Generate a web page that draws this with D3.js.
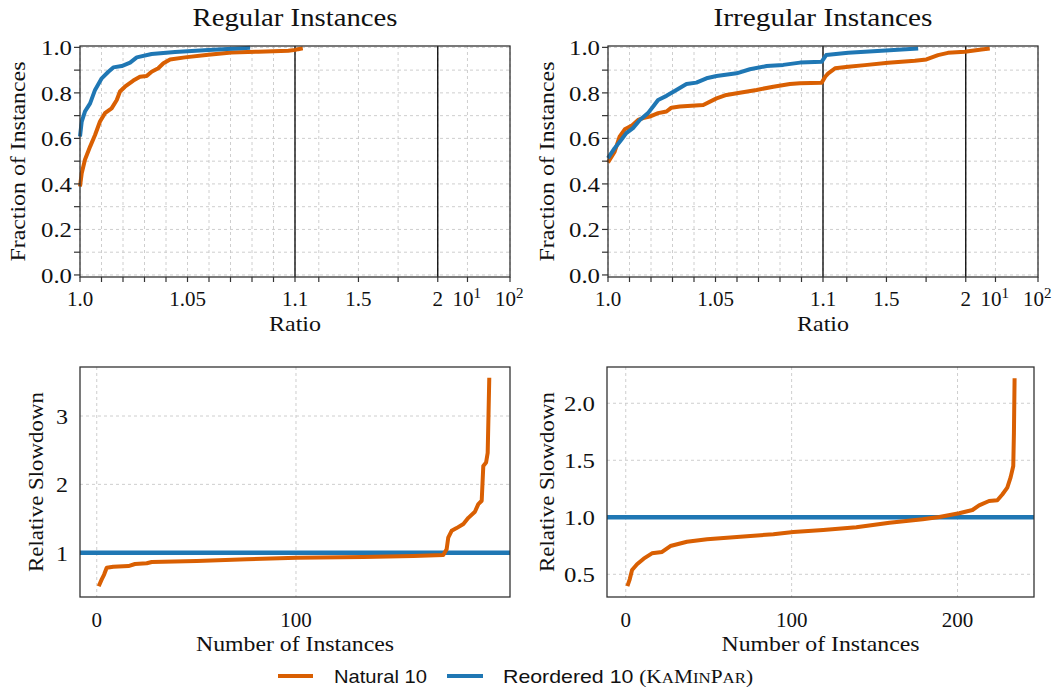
<!DOCTYPE html>
<html>
<head>
<meta charset="utf-8">
<title>Performance profiles and relative slowdown</title>
<script src="https://d3js.org/d3.v7.min.js"></script>
<style>
  html, body { margin: 0; padding: 0; background: #fff; }
  svg text { font-family: "Liberation Serif", "Times New Roman", serif; fill: #111; }
  .sans { font-family: "Liberation Sans", Arial, sans-serif; }
</style>
</head>
<body>
<svg id="chart" width="1057" height="693"></svg>
<script>
// ---- data ----
// performance profiles: [ratio, fraction of instances]
var regularNatural = [[1.0000,0.389],[1.0008,0.447],[1.0023,0.506],[1.0047,0.564],[1.0070,0.615],[1.0093,0.674],
  [1.0116,0.711],[1.0147,0.732],[1.0171,0.769],[1.0186,0.806],[1.0209,0.827],[1.0248,0.854],[1.0279,0.871],
  [1.0310,0.874],[1.0333,0.893],[1.0364,0.908],[1.0388,0.930],[1.0419,0.947],[1.0488,0.956],[1.0597,0.968],
  [1.0705,0.977],[1.0829,0.981],[1.0969,0.985],[1.1031,0.989],[1.12,0.992],[1.149,0.996]];
var regularReordered = [[1.0000,0.608],[1.0008,0.674],[1.0023,0.718],[1.0047,0.754],[1.0070,0.813],[1.0101,0.864],
  [1.0132,0.893],[1.0155,0.912],[1.0194,0.918],[1.0233,0.933],[1.0264,0.956],[1.0333,0.971],[1.0442,0.980],
  [1.0597,0.988],[1.0752,0.996],[1.0791,0.998]];
var irregularNatural = [[1.0000,0.494],[1.0031,0.542],[1.0054,0.608],[1.0078,0.640],[1.0109,0.655],[1.0140,0.681],
  [1.0163,0.689],[1.0194,0.696],[1.0233,0.711],[1.0272,0.718],[1.0295,0.735],[1.0334,0.740],[1.0443,0.747],
  [1.0505,0.776],[1.0551,0.791],[1.0613,0.801],[1.0691,0.813],[1.0769,0.827],[1.0846,0.839],[1.0893,0.842],
  [1.0994,0.845],[1.115,0.872],[1.133,0.886],[1.176,0.908],[1.259,0.915],[1.364,0.922],[1.511,0.932],
  [1.679,0.941],[1.752,0.947],[1.825,0.966],[1.888,0.976],[1.994,0.981],[4.68,0.991],[7.34,0.995]];
var irregularReordered = [[1.0000,0.513],[1.0031,0.557],[1.0062,0.594],[1.0085,0.623],[1.0116,0.645],[1.0148,0.681],
  [1.0186,0.711],[1.0210,0.740],[1.0233,0.769],[1.0272,0.787],[1.0318,0.813],[1.0365,0.839],[1.0411,0.845],
  [1.0458,0.864],[1.0505,0.874],[1.0598,0.886],[1.0660,0.904],[1.0738,0.918],[1.0815,0.923],[1.0893,0.933],
  [1.0994,0.937],[1.106,0.952],[1.12,0.966],[1.259,0.976],[1.469,0.985],[1.70,0.995]];

// relative slowdown of Natural 10 vs Reordered 10, sorted: [instance, slowdown]
var regularSlowdown = [[1,0.51],[2.5,0.61],[3.7,0.68],[5,0.78],[8.3,0.795],[15.9,0.805],[19.2,0.835],[25.1,0.845],
  [27.6,0.864],[50.2,0.878],[75.3,0.903],[100.4,0.927],[133.8,0.937],[158.9,0.952],[173.9,0.966],[175.6,1.05],
  [176.4,1.22],[178.1,1.32],[180.6,1.36],[184,1.42],[186.5,1.51],[189.8,1.60],[191.5,1.71],[193.2,1.76],
  [194.0,2.27],[195.4,2.32],[196.2,2.46],[196.6,3.0],[197,3.56]];
var irregularSlowdown = [[1,0.397],[2.4,0.456],[3.8,0.538],[6.8,0.588],[10.8,0.637],[15.8,0.684],[21.9,0.696],
  [26.9,0.748],[36.9,0.786],[49,0.807],[69,0.83],[89,0.851],[101,0.871],[119,0.889],[139,0.912],[159,0.953],
  [179,0.982],[189,1.003],[201,1.035],[209,1.064],[213,1.105],[219,1.143],[224,1.149],[227,1.2],[230,1.26],
  [232,1.35],[233.6,1.45],[234,1.74],[234.4,2.22]];
var baseline = 1.0;

var profileMajor = [1.0, 1.05, 1.1, 1.5, 2, 10, 100];
var profileMajorLabels = ["1.0", "1.05", "1.1", "1.5", "2", "10|1", "10|2"];
var profileMinor = [1.01, 1.02, 1.03, 1.04, 1.06, 1.07, 1.08, 1.09, 1.25, 1.75];
var profileYMajor = [0, 0.2, 0.4, 0.6, 0.8, 1.0];
var profileYMinor = [0.1, 0.3, 0.5, 0.7, 0.9];
var profileBreaks = [1.1, 2];

var slowRegYTicks = [1, 2, 3];
var slowRegXTicks = [0, 100];
var slowIrrYTicks = [0.5, 1.0, 1.5, 2.0];
var slowIrrXTicks = [0, 100, 200];

var seriesNames = ["Natural 10", "Reordered 10"];
var colNatural = "#d95f02", colReordered = "#1f77b4";

var svg = d3.select("#chart");
var gridCol = "#c8c8c8", frameCol = "#333";

// the reference uses Computer Modern, which runs wider than Liberation Serif
function widen(sel, len) {
  return sel.attr("textLength", len).attr("lengthAdjust", "spacingAndGlyphs");
}

function profilePanel(x0, y0, w, h, title, titleLen, labelOffset, natural, reordered) {
  var g = svg.append("g");
  var xLin = d3.scaleLinear().domain([1, 1.1, 2]).range([x0, x0 + 0.5 * w, x0 + 0.832 * w]);
  var xLog = d3.scaleLog().domain([2, 100]).range([x0 + 0.832 * w, x0 + w]);
  var x = function(r) { return r <= 2 ? xLin(r) : xLog(r); };
  var y = d3.scaleLinear().domain([-0.009, 1.006]).range([y0 + h, y0]);

  // grid
  profileMajor.concat(profileMinor).forEach(function(t) {
    g.append("line").attr("x1", x(t)).attr("x2", x(t)).attr("y1", y0).attr("y2", y0 + h)
      .attr("stroke", gridCol).attr("stroke-width", 0.9).attr("stroke-dasharray", "3,3");
  });
  profileYMajor.concat(profileYMinor).forEach(function(t) {
    g.append("line").attr("x1", x0).attr("x2", x0 + w).attr("y1", y(t)).attr("y2", y(t))
      .attr("stroke", gridCol).attr("stroke-width", 0.9).attr("stroke-dasharray", "3,3");
  });
  // segment breaks
  profileBreaks.forEach(function(t) {
    g.append("line").attr("x1", x(t)).attr("x2", x(t)).attr("y1", y0).attr("y2", y0 + h)
      .attr("stroke", "#000").attr("stroke-width", 1.3);
  });

  var line = d3.line().x(function(d) { return x(d[0]); }).y(function(d) { return y(d[1]); });
  g.append("path").datum(natural).attr("d", line).attr("fill", "none")
    .attr("stroke", colNatural).attr("stroke-width", 4).attr("stroke-linejoin", "round");
  g.append("path").datum(reordered).attr("d", line).attr("fill", "none")
    .attr("stroke", colReordered).attr("stroke-width", 4).attr("stroke-linejoin", "round");

  // frame
  g.append("rect").attr("x", x0).attr("y", y0).attr("width", w).attr("height", h)
    .attr("fill", "none").attr("stroke", frameCol).attr("stroke-width", 1.3);

  // ticks
  profileMajor.concat(profileMinor).forEach(function(t) {
    g.append("line").attr("x1", x(t)).attr("x2", x(t)).attr("y1", y0 + h).attr("y2", y0 + h + 5)
      .attr("stroke", frameCol).attr("stroke-width", 1.2);
  });
  profileYMajor.concat(profileYMinor).forEach(function(t) {
    g.append("line").attr("x1", x0 - 6).attr("x2", x0).attr("y1", y(t)).attr("y2", y(t))
      .attr("stroke", frameCol).attr("stroke-width", 1.2);
  });
  profileMajor.forEach(function(t, i) {
    var parts = profileMajorLabels[i].split("|");
    var tx = g.append("text").attr("x", x(t)).attr("y", y0 + h + 29)
      .attr("text-anchor", "middle").style("font-size", "21px").text(parts[0]);
    if (parts.length > 1) {
      tx.attr("text-anchor", "start").attr("x", x(t) - 15);
      tx.append("tspan").attr("dy", -8).style("font-size", "15px").text(parts[1]);
    }
  });
  profileYMajor.forEach(function(t) {
    widen(g.append("text").attr("x", x0 - 8).attr("y", y(t) + 8).attr("text-anchor", "end")
      .style("font-size", "22px").text(d3.format(".1f")(t)), 31);
  });

  widen(g.append("text").attr("x", x0 + w / 2).attr("y", 26).attr("text-anchor", "middle")
    .style("font-size", "25px").text(title), titleLen);
  widen(g.append("text").attr("x", x0 + w / 2).attr("y", y0 + h + 54).attr("text-anchor", "middle")
    .style("font-size", "21px").text("Ratio"), 52);
  widen(g.append("text").attr("transform", "translate(" + (x0 - labelOffset) + "," + (y0 + h / 2) + ") rotate(-90)")
    .attr("text-anchor", "middle").style("font-size", "21px").text("Fraction of Instances"), 200);
}

function slowdownPanel(x0, y0, w, h, xDomain, yDomain, xTicks, yTicks, yFmt, labelOffset, data) {
  var g = svg.append("g");
  var x = d3.scaleLinear().domain(xDomain).range([x0, x0 + w]);
  var y = d3.scaleLinear().domain(yDomain).range([y0 + h, y0]);

  xTicks.forEach(function(t) {
    g.append("line").attr("x1", x(t)).attr("x2", x(t)).attr("y1", y0).attr("y2", y0 + h)
      .attr("stroke", gridCol).attr("stroke-width", 0.9).attr("stroke-dasharray", "3,3");
  });
  yTicks.forEach(function(t) {
    g.append("line").attr("x1", x0).attr("x2", x0 + w).attr("y1", y(t)).attr("y2", y(t))
      .attr("stroke", gridCol).attr("stroke-width", 0.9).attr("stroke-dasharray", "3,3");
  });

  g.append("line").attr("x1", x0).attr("x2", x0 + w).attr("y1", y(baseline)).attr("y2", y(baseline))
    .attr("stroke", colReordered).attr("stroke-width", 4.5);
  var line = d3.line().x(function(d) { return x(d[0]); }).y(function(d) { return y(d[1]); });
  g.append("path").datum(data).attr("d", line).attr("fill", "none")
    .attr("stroke", colNatural).attr("stroke-width", 4).attr("stroke-linejoin", "round");

  g.append("rect").attr("x", x0).attr("y", y0).attr("width", w).attr("height", h)
    .attr("fill", "none").attr("stroke", frameCol).attr("stroke-width", 1.3);

  xTicks.forEach(function(t) {
    g.append("text").attr("x", x(t)).attr("y", y0 + h + 30).attr("text-anchor", "middle")
      .style("font-size", "21px").text(t);
  });
  yTicks.forEach(function(t) {
    var s = yFmt(t);
    widen(g.append("text").attr("x", x0 - 12).attr("y", y(t) + 8).attr("text-anchor", "end")
      .style("font-size", "22px").text(s), s.length > 1 ? 31 : 12);
  });
  widen(g.append("text").attr("x", x0 + w / 2).attr("y", y0 + h + 54).attr("text-anchor", "middle")
    .style("font-size", "21px").text("Number of Instances"), 198);
  widen(g.append("text").attr("transform", "translate(" + (x0 - labelOffset) + "," + (y0 + h / 2) + ") rotate(-90)")
    .attr("text-anchor", "middle").style("font-size", "21px").text("Relative Slowdown"), 180);
}

profilePanel(80, 46, 430, 231, "Regular Instances", 205, 55, regularNatural, regularReordered);
profilePanel(608, 46, 430, 231, "Irregular Instances", 219, 54, irregularNatural, irregularReordered);
slowdownPanel(80, 367, 430, 230, [-8.4, 207.4], [0.352, 3.717], slowRegXTicks, slowRegYTicks,
  d3.format("d"), 37, regularSlowdown);
slowdownPanel(607, 367, 427, 230, [-11.3, 246.1], [0.301, 2.318], slowIrrXTicks, slowIrrYTicks,
  d3.format(".1f"), 53, irregularSlowdown);

// legend
var leg = svg.append("g");
leg.append("line").attr("x1", 278).attr("x2", 313).attr("y1", 676).attr("y2", 676)
  .attr("stroke", colNatural).attr("stroke-width", 4);
widen(leg.append("text").attr("class", "sans").attr("x", 334).attr("y", 683).style("font-size", "19px")
  .text(seriesNames[0]), 93);
leg.append("line").attr("x1", 447).attr("x2", 483).attr("y1", 676).attr("y2", 676)
  .attr("stroke", colReordered).attr("stroke-width", 4);
var t2 = leg.append("text").attr("x", 503).attr("y", 683).style("font-size", "19px");
t2.append("tspan").attr("class", "sans").text(seriesNames[1] + " ");
t2.append("tspan").text("(K");
t2.append("tspan").style("font-size", "15px").text("A");
t2.append("tspan").text("M");
t2.append("tspan").style("font-size", "15px").text("IN");
t2.append("tspan").text("P");
t2.append("tspan").style("font-size", "15px").text("AR");
t2.append("tspan").text(")");
widen(t2, 250);
</script>
</body>
</html>
